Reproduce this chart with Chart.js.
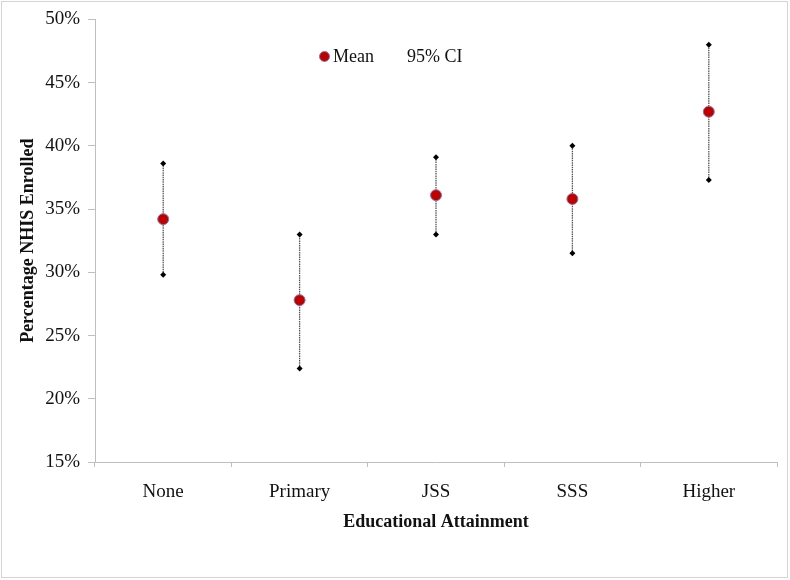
<!DOCTYPE html>
<html>
<head>
<meta charset="utf-8">
<script src="https://cdn.jsdelivr.net/npm/chart.js@4"></script>
<style>
    body { margin: 0; background: #fff; }
    #wrap { position: relative; width: 790px; height: 580px; }
    #frame { position: absolute; left: 1px; top: 1px; width: 785px; height: 575px; border: 1px solid #d4d4d4; pointer-events: none; }
    #legend { position: absolute; left: 0; top: 0; font-family: 'Liberation Serif', serif; font-size: 18px; color: #111; }
    #legend .dot { position: absolute; left: 319px; top: 51px; width: 9px; height: 9px; border-radius: 50%; background: #c00000; border: 1px solid #8878a8; }
    #legend .txt { position: absolute; top: 46px; white-space: nowrap; }
</style>
</head>
<body>
<div id="wrap">
    <canvas id="chart" width="790" height="580"></canvas>
    <div id="frame"></div>
    <div id="legend">
        <span class="dot"></span>
        <span class="txt" style="left:333px">Mean</span>
        <span class="txt" style="left:407px">95% CI</span>
    </div>
</div>
<script>
// --- Data ---
const categories = ['None', 'Primary', 'JSS', 'SSS', 'Higher'];
const meanValues = [34.2, 27.8, 36.1, 35.8, 42.7];
const ciLower = [29.8, 22.4, 33.0, 31.5, 37.3];
const ciUpper = [38.6, 33.0, 39.1, 40.0, 48.0];
const yMin = 15, yMax = 50, yStep = 5;

// each CI whisker is two points, broken by a null
const ciPoints = categories.flatMap((c, i) => [
    { x: c, y: ciLower[i] },
    { x: c, y: ciUpper[i] },
    { x: c, y: null }
]);

const axisGrey = '#bfbfbf';
const serif = 'Liberation Serif';

new Chart(document.getElementById('chart'), {
    type: 'line',
    data: {
        labels: categories,
        datasets: [
            {
                label: 'Mean',
                data: meanValues,
                showLine: false,
                pointStyle: 'circle',
                pointRadius: 5.5,
                pointBackgroundColor: '#c00000',
                pointBorderColor: '#8878a8',
                pointBorderWidth: 1
            },
            {
                label: '95% CI',
                data: ciPoints,
                borderColor: '#555',
                borderWidth: 1.3,
                borderDash: [1.5, 0.8],
                spanGaps: false,
                pointStyle: 'rectRot',
                pointRadius: 3,
                pointBackgroundColor: '#000',
                pointBorderColor: '#000',
                pointBorderWidth: 0
            }
        ]
    },
    options: {
        responsive: false,
        animation: false,
        devicePixelRatio: 1,
        layout: { padding: { top: 9, right: 13, bottom: 0, left: 0 } },
        plugins: {
            legend: { display: false },
            tooltip: { enabled: false }
        },
        scales: {
            x: {
                type: 'category',
                offset: true,
                afterFit: (s) => { s.height = 118; },
                grid: { offset: true, drawOnChartArea: false, tickLength: 5, color: axisGrey },
                border: { color: axisGrey },
                ticks: { color: '#111', padding: 14, font: { family: serif, size: 19 } },
                title: {
                    display: true,
                    text: 'Educational Attainment',
                    color: '#111',
                    font: { family: serif, size: 18, weight: 'bold' },
                    padding: { top: 0, bottom: 47 }
                }
            },
            y: {
                min: yMin,
                max: yMax,
                afterFit: (s) => { s.width = 95; },
                grid: { drawOnChartArea: false, tickLength: 7, color: axisGrey },
                border: { color: axisGrey },
                ticks: {
                    stepSize: yStep,
                    color: '#111',
                    padding: 8,
                    font: { family: serif, size: 19 },
                    callback: (v) => v + '%'
                },
                title: {
                    display: true,
                    text: 'Percentage NHIS Enrolled',
                    color: '#111',
                    font: { family: serif, size: 18, weight: 'bold' },
                    padding: { top: 18, bottom: 0 }
                }
            }
        }
    }
});
</script>
</body>
</html>
